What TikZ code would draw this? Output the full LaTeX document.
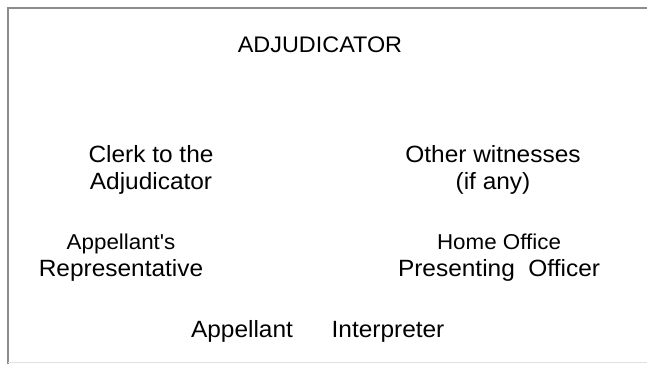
\documentclass[tikz,border=0pt]{standalone}
\usepackage{fontspec}
\setmainfont[FakeStretch=1.04]{Liberation Sans}
\newcommand\minorsize{\fontsize{21.5}{27}\selectfont}
\begin{document}
\begin{tikzpicture}[x=1pt,y=-1pt,
    lbl/.style={align=center, inner sep=0pt, font=\fontsize{23.5}{27}\selectfont},
    frame/.style={color=black!45, line width=1.3pt}]
    \useasboundingbox (0,0) rectangle (647,364);
    % frame of the room, cut off on the right
    \draw [frame] (8,364) -- (8,8) -- (647,8);
    \draw [color=black!12, line width=1pt] (8,362) -- (647,362);

    \node [lbl, anchor=base, font=\fontsize{22.5}{27}\selectfont] (adj) at (320,52) {ADJUDICATOR};

    \node [lbl] (clerk) at (151,170) {Clerk to the\\Adjudicator};
    \node [lbl] (witness) at (493,170) {Other witnesses\\(if any)};

    \node [lbl] (rep) at (121,258) {{\minorsize Appellant\textquotesingle s}\\Representative};
    \node [lbl] (hopo) at (499,258) {{\minorsize Home Office}\\Presenting\ \ Officer};

    \node [lbl, anchor=base] (appellant) at (242,337) {Appellant};
    \node [lbl, anchor=base] (interp) at (388,337) {Interpreter};
\end{tikzpicture}
\end{document}
